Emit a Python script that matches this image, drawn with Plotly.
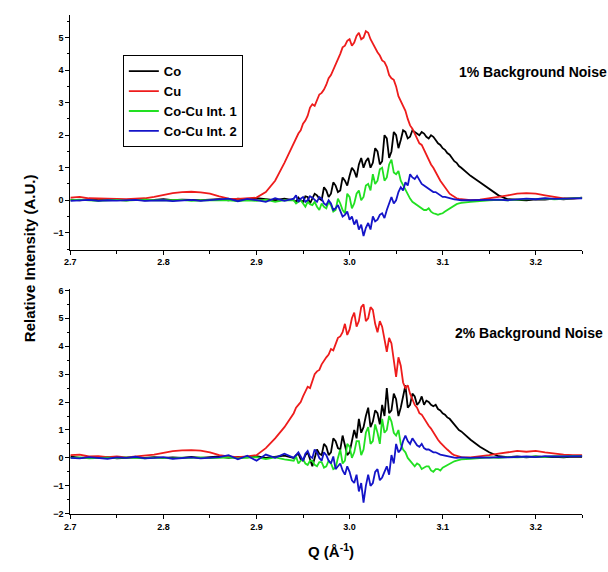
import plotly.graph_objects as go

# Q grid (Å^-1): coarse at the wings, fine across the peak region
Q = [2.70, 2.71, 2.72, 2.73, 2.74, 2.75, 2.76, 2.77, 2.78, 2.79, 2.80, 2.81,
     2.82, 2.83, 2.84, 2.85, 2.86, 2.87, 2.88, 2.89, 2.90, 2.91, 2.92, 2.93,
     2.9400, 2.9425, 2.9450, 2.9475, 2.9500, 2.9525, 2.9550, 2.9575,
     2.9600, 2.9625, 2.9650, 2.9675, 2.9700, 2.9725, 2.9750, 2.9775,
     2.9800, 2.9825, 2.9850, 2.9875, 2.9900, 2.9925, 2.9950, 2.9975,
     3.0000, 3.0025, 3.0050, 3.0075, 3.0100, 3.0125, 3.0150, 3.0175,
     3.0200, 3.0225, 3.0250, 3.0275, 3.0300, 3.0325, 3.0350, 3.0375,
     3.0400, 3.0425, 3.0450, 3.0475, 3.0500, 3.0525, 3.0550, 3.0575,
     3.0600, 3.0625, 3.0650, 3.0675, 3.0700, 3.0725, 3.0750, 3.0775,
     3.0800, 3.0825, 3.0850, 3.0875, 3.0900, 3.0925, 3.0950, 3.0975,
     3.1000, 3.1025, 3.1050, 3.1075, 3.1100, 3.1125, 3.1150, 3.1175,
     3.1200,
     3.13, 3.14, 3.15, 3.16, 3.17, 3.18, 3.19, 3.20, 3.21, 3.22, 3.23, 3.24, 3.25]

# ---- 1% background noise (top panel)
co_1 = [0.02, 0.0, 0.03, 0.0, 0.02, 0.01, 0.0, 0.02, 0.0, 0.01, 0.03, 0.0,
        0.02, 0.01, 0.0, 0.02, 0.03, 0.0, 0.05, 0.02, 0.06, 0.03, 0.0, 0.05,
        0.0, -0.05, 0.08, 0.0, -0.05, 0.12, 0.1, -0.1,
        0.05, 0.2, 0.15, 0.05, 0.0, 0.4, 0.3, 0.1,
        0.2, 0.55, 0.45, 0.25, 0.3, 0.7, 0.6, 0.45,
        0.75, 1.0, 0.9, 0.7, 1.1, 1.3, 1.0, 1.2,
        1.3, 1.0, 1.15, 1.6, 1.5, 1.1, 1.2, 2.0,
        1.9, 1.3, 1.5, 2.1, 2.0, 1.6, 1.85, 2.15,
        2.1, 1.9, 1.95, 2.15, 2.1, 2.05, 2.0, 2.1,
        2.05, 1.95, 1.9, 2.0, 1.95, 1.85, 1.75, 1.7,
        1.6, 1.55, 1.45, 1.4, 1.3, 1.2, 1.15, 1.05,
        1.0,
        0.75, 0.55, 0.35, 0.15, 0.03, 0.02, 0.0, 0.03, 0.02, 0.05, 0.03, 0.06, 0.08]
cu_1 = [0.08, 0.1, 0.06, 0.05, 0.04, 0.05, 0.03, 0.05, 0.06, 0.1, 0.16, 0.22,
        0.25, 0.26, 0.24, 0.2, 0.12, 0.05, 0.04, 0.05, 0.08, 0.25, 0.6, 1.15,
        1.75, 1.95, 2.05, 2.15, 2.35, 2.45, 2.6, 2.85,
        2.95, 2.9, 3.1, 3.25, 3.3, 3.4, 3.55, 3.75,
        3.85, 4.0, 4.2, 4.3, 4.5, 4.7, 4.75, 4.9,
        4.95, 4.75, 4.85, 5.05, 5.15, 4.95, 5.0, 5.2,
        5.15, 4.95, 4.8, 4.7, 4.55, 4.45, 4.3, 4.25,
        4.1, 3.85, 3.75, 3.7, 3.5, 3.2, 3.05, 2.95,
        2.75, 2.5, 2.3, 2.2, 2.05, 1.85, 1.75, 1.7,
        1.55, 1.35, 1.2, 1.1, 1.0, 0.85, 0.75, 0.6,
        0.5, 0.4, 0.3, 0.2, 0.15, 0.1, 0.06, 0.04,
        0.03,
        0.0, 0.02, 0.05, 0.1, 0.15, 0.2, 0.22, 0.2, 0.15, 0.1, 0.06, 0.05, 0.07]
int1_1 = [0.0, 0.02, 0.0, -0.02, 0.0, 0.01, -0.01, 0.0, 0.02, 0.0, -0.01, 0.0,
          0.01, -0.02, 0.0, 0.0, 0.02, 0.0, -0.03, 0.0, -0.02, 0.02, -0.05, 0.0,
          0.0, -0.1, -0.05, 0.0, -0.1, -0.2, -0.05, -0.12,
          -0.15, -0.05, -0.2, -0.3, -0.1, -0.2, -0.25, -0.05,
          -0.15, -0.35, -0.3, 0.05, -0.1, -0.3, -0.4, 0.2,
          0.1, -0.25, -0.1, 0.2, 0.3, 0.0, 0.1, 0.45,
          0.5, 0.3, 0.8, 0.5, 0.6, 0.95, 1.0, 0.6,
          0.7, 1.1, 1.25, 0.85, 0.8, 0.9, 0.6, 0.45,
          0.3, 0.15, 0.05, -0.05, -0.1, -0.15, -0.2, -0.25,
          -0.3, -0.3, -0.25, -0.35, -0.4, -0.42, -0.45, -0.42,
          -0.4, -0.35, -0.3, -0.25, -0.2, -0.15, -0.12, -0.1,
          -0.08,
          -0.05, -0.02, 0.0, 0.01, 0.0, 0.02, 0.03, 0.02, 0.05, 0.03, 0.05, 0.06, 0.07]
int2_1 = [-0.02, 0.0, 0.01, -0.02, 0.0, -0.01, 0.0, 0.01, -0.02, 0.0, 0.0, -0.03,
          0.0, 0.01, -0.02, 0.0, 0.01, 0.05, -0.03, 0.04, 0.0, -0.05, 0.06, -0.02,
          0.05, 0.15, -0.05, 0.05, 0.1, -0.05, 0.0, 0.12,
          0.08, 0.0, -0.05, 0.1, 0.05, -0.1, -0.15, 0.0,
          -0.1, -0.3, -0.25, -0.15, -0.3, -0.5, -0.45, -0.35,
          -0.6, -0.5, -0.75, -0.6, -0.9, -0.75, -1.1, -0.85,
          -0.7, -0.9, -0.5, -0.65, -0.6, -0.45, -0.4, -0.55,
          -0.3, -0.1, 0.1, -0.1, 0.0, 0.25, 0.4, 0.3,
          0.55, 0.45, 0.8, 0.7, 0.65, 0.75, 0.6, 0.5,
          0.45, 0.4, 0.35, 0.3, 0.25, 0.25, 0.2, 0.15,
          0.1, 0.1, 0.08, 0.05, 0.03, 0.03, 0.02, 0.01,
          0.0,
          0.0, 0.01, 0.0, 0.02, 0.0, 0.03, 0.05, 0.03, 0.06, 0.04, 0.05, 0.07, 0.06]

# ---- 2% background noise (bottom panel)
co_2 = [0.05, 0.0, 0.02, 0.0, 0.03, -0.02, 0.0, 0.02, 0.0, 0.03, 0.0, 0.02,
        0.0, 0.04, 0.0, 0.02, 0.05, 0.0, 0.04, 0.02, 0.06, 0.0, 0.05, 0.08,
        0.0, 0.1, 0.15, -0.05, -0.1, 0.1, 0.2, -0.05,
        -0.3, 0.0, 0.3, 0.15, 0.1, 0.5, 0.4, 0.1,
        0.2, 0.7, 0.6, 0.35, 0.3, 0.8, 0.5, 0.1,
        0.2, 0.6, 1.0, 0.7, 1.4, 0.9, 1.1, 1.5,
        1.8, 1.1, 1.3, 1.7, 1.6, 1.2, 1.9, 1.5,
        2.5, 1.6, 1.7, 2.3, 2.1, 1.5, 1.8, 2.2,
        2.6, 1.8, 1.9, 2.3, 2.2, 1.9, 2.0, 2.2,
        1.9, 2.05, 2.0, 1.9, 1.85, 1.9, 1.75, 1.7,
        1.6, 1.55, 1.45, 1.4, 1.3, 1.2, 1.1, 1.0,
        0.95,
        0.65, 0.4, 0.2, 0.06, 0.03, 0.05, 0.02, 0.05, 0.03, 0.04, 0.02, 0.05, 0.04]
cu_2 = [0.1, 0.12, 0.05, 0.06, 0.03, 0.05, 0.02, 0.05, 0.07, 0.12, 0.18, 0.24,
        0.27, 0.28, 0.26, 0.2, 0.1, 0.05, 0.03, 0.05, 0.1, 0.35, 0.7, 1.1,
        1.6, 1.8, 1.9, 2.0, 2.2, 2.4, 2.55, 2.5,
        2.8, 3.0, 3.1, 3.15, 3.35, 3.5, 3.6, 3.7,
        3.9, 3.85, 4.1, 4.3, 4.35, 4.5, 4.8, 4.4,
        4.6, 5.0, 5.2, 4.7, 4.9, 5.4, 5.5, 4.9,
        5.0, 5.4, 5.3, 4.8, 4.5, 4.9, 4.7, 4.2,
        3.8, 4.3, 4.1, 3.5, 2.9, 3.6, 3.3, 2.7,
        2.5, 2.6, 2.3, 2.1, 1.9, 1.8, 1.6, 1.55,
        1.4, 1.25, 1.15, 1.05, 0.9, 0.75, 0.65, 0.55,
        0.45, 0.38, 0.3, 0.22, 0.15, 0.1, 0.07, 0.05,
        0.03,
        0.02, 0.05, 0.1, 0.15, 0.2, 0.25, 0.22, 0.25, 0.2, 0.15, 0.12, 0.1, 0.1]
int1_2 = [0.0, 0.02, -0.02, 0.0, 0.01, -0.01, 0.02, 0.0, -0.02, 0.01, 0.0, -0.02,
          0.01, 0.0, 0.02, -0.01, 0.0, 0.02, -0.02, 0.0, 0.03, -0.04, 0.02, -0.05,
          -0.1, 0.05, -0.2, -0.1, -0.05, -0.2, -0.25, -0.1,
          -0.1, -0.25, -0.3, -0.15, -0.15, -0.35, -0.3, -0.1,
          -0.2, -0.4, -0.35, 0.0, 0.3, -0.2, -0.1, 0.5,
          0.4, 0.0, 0.2, 0.6, 0.6, 0.1, 0.3, 0.9,
          1.1, 0.5, 0.6, 1.2, 0.9, 0.5, 1.4, 0.9,
          1.0, 1.5, 1.3, 0.9, 0.8, 1.0, 0.5, 0.3,
          0.2, 0.0, -0.1, -0.2, -0.3, -0.2, -0.25, -0.4,
          -0.35, -0.3, -0.3, -0.45, -0.5, -0.4, -0.4, -0.45,
          -0.35, -0.3, -0.25, -0.2, -0.15, -0.12, -0.1, -0.07,
          -0.05,
          -0.03, 0.0, 0.02, 0.0, 0.03, 0.02, 0.04, 0.05, 0.03, 0.06, 0.05, 0.07, 0.06]
int2_2 = [0.0, -0.02, 0.03, 0.0, -0.03, 0.02, 0.0, 0.04, -0.02, 0.0, 0.03, -0.03,
          0.0, 0.02, -0.02, 0.0, 0.03, 0.1, -0.05, 0.08, -0.1, 0.12, 0.0, 0.15,
          0.0, 0.1, 0.2, 0.05, -0.1, 0.15, 0.25, 0.05,
          0.0, 0.3, 0.2, 0.0, -0.1, 0.2, 0.1, -0.1,
          -0.2, 0.05, -0.4, -0.3, -0.2, -0.45, -0.6, -0.3,
          -0.5, -0.8, -0.9, -0.6, -1.2, -0.9, -1.6, -1.0,
          -0.6, -1.0, -0.9, -0.5, -0.4, -0.8, -0.7, -0.5,
          -0.3, -0.6, 0.1, -0.2, 0.5, 0.2, 0.3, 0.6,
          0.8, 0.6, 0.5, 0.7, 0.55, 0.45, 0.4, 0.5,
          0.35, 0.3, 0.3, 0.25, 0.2, 0.2, 0.15, 0.12,
          0.1, 0.08, 0.05, 0.03, 0.02, 0.01, 0.0, 0.01,
          0.02,
          0.0, 0.02, 0.01, 0.03, 0.02, 0.04, 0.05, 0.03, 0.06, 0.05, 0.06, 0.07, 0.06]

names = ["Co", "Cu", "Co-Cu Int. 1", "Co-Cu Int. 2"]
colors = ["#000000", "#ee1c1c", "#22e022", "#1414c8"]
panel1 = [co_1, cu_1, int1_1, int2_1]
panel2 = [co_2, cu_2, int1_2, int2_2]

x_ticks = [2.7, 2.8, 2.9, 3.0, 3.1, 3.2]
y1_ticks = [-1, 0, 1, 2, 3, 4, 5]
y2_ticks = [-2, -1, 0, 1, 2, 3, 4, 5, 6]

W, H = 608, 572
FONT = "Liberation Sans, Arial"
fig = go.Figure()
for nm, col, ys in zip(names, colors, panel1):
    fig.add_trace(go.Scatter(x=Q, y=ys, mode="lines", name=nm,
                             line=dict(color=col, width=1.8),
                             xaxis="x", yaxis="y"))
for nm, col, ys in zip(names, colors, panel2):
    fig.add_trace(go.Scatter(x=Q, y=ys, mode="lines", name=nm, showlegend=False,
                             line=dict(color=col, width=1.8),
                             xaxis="x2", yaxis="y2"))

tickfont = dict(family=FONT, size=9, color="black", weight="bold")
xd = [65 / W, 582 / W]
axis_common = dict(showline=True, linecolor="black", linewidth=1, showgrid=False,
                   zeroline=False, ticks="outside", ticklen=4, tickcolor="black",
                   tickfont=tickfont, mirror=False)
xcommon = dict(axis_common, range=[2.7, 3.25], tickvals=x_ticks,
               ticktext=[f"{v:.1f}" for v in x_ticks],
               minor=dict(dtick=0.05, tick0=2.7, ticks="outside", ticklen=3,
                          tickcolor="black"))

fig.update_layout(
    width=W, height=H,
    margin=dict(l=0, r=0, t=0, b=0),
    paper_bgcolor="white", plot_bgcolor="white",
    showlegend=True,
    xaxis=dict(xcommon, domain=xd, anchor="y"),
    yaxis=dict(axis_common, domain=[1 - 250 / H, 1 - 12 / H], range=[-1.515, 5.7],
               tickvals=y1_ticks, anchor="x",
               minor=dict(dtick=0.5, tick0=0, ticks="outside", ticklen=2,
                          tickcolor="black")),
    xaxis2=dict(xcommon, domain=xd, anchor="y2"),
    yaxis2=dict(axis_common, domain=[1 - 518 / H, 1 - 290 / H], range=[-2, 6.05],
                tickvals=y2_ticks, anchor="x2",
                minor=dict(dtick=0.5, tick0=0, ticks="outside", ticklen=2,
                           tickcolor="black")),
    legend=dict(x=118 / W, y=1 - 53 / H, xanchor="left", yanchor="top",
                bordercolor="black", borderwidth=1, bgcolor="white",
                font=dict(family=FONT, size=13, color="black", weight="bold"),
                tracegroupgap=0, itemwidth=30),
    annotations=[
        dict(text="1% Background Noise", x=532 / W, y=1 - 70 / H, xref="paper",
             yref="paper", showarrow=False, xanchor="center", yanchor="middle",
             font=dict(family=FONT, size=14, color="black", weight="bold")),
        dict(text="2% Background Noise", x=528 / W, y=1 - 335 / H, xref="paper",
             yref="paper", showarrow=False, xanchor="center", yanchor="middle",
             font=dict(family=FONT, size=14, color="black", weight="bold")),
        dict(text="Relative Intensity (A.U.)", x=24 / W, y=1 - 259 / H,
             xref="paper", yref="paper", showarrow=False, textangle=-90,
             xanchor="center", yanchor="middle",
             font=dict(family=FONT, size=15, color="black", weight="bold")),
        dict(text="Q (Å<sup>-1</sup>)", x=328 / W, y=1 - 555 / H,
             xref="paper", yref="paper", showarrow=False,
             xanchor="center", yanchor="middle",
             font=dict(family=FONT, size=15, color="black", weight="bold")),
    ],
)

fig.write_html("out.html")
